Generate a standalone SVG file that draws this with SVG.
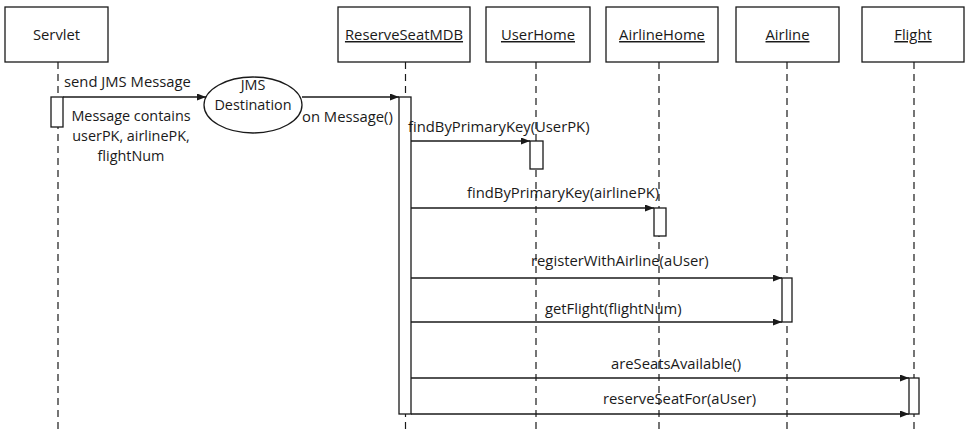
<svg xmlns="http://www.w3.org/2000/svg" width="965" height="434" viewBox="0 0 965 434">
<style>
text{font-family:"Open Sans","DejaVu Sans",sans-serif;font-size:14.8px;fill:#1a1a1a}
.m{font-size:14.4px}
.box{fill:#fff;stroke:#1a1a1a;stroke-width:1.3}
.life{stroke:#1a1a1a;stroke-width:1.2;stroke-dasharray:7 5;fill:none}
.act{fill:#fff;stroke:#1a1a1a;stroke-width:1.3}
.msg{stroke:#1a1a1a;stroke-width:1.3;fill:none;marker-end:url(#arr)}
.c{text-anchor:middle}
.u{text-decoration:underline}
</style>
<defs>
<marker id="arr" markerUnits="userSpaceOnUse" markerWidth="10" markerHeight="8" refX="9" refY="3.5" orient="auto">
<path d="M0,0 L9,3.5 L0,7 z" fill="#1a1a1a"/>
</marker>
</defs>
<rect width="965" height="434" fill="#fff"/>
<g id="lifelines">
<line class="life" x1="58" y1="62" x2="58" y2="434"/>
<line class="life" x1="405.5" y1="62" x2="405.5" y2="434"/>
<line class="life" x1="536" y1="62" x2="536" y2="434"/>
<line class="life" x1="659" y1="62" x2="659" y2="434"/>
<line class="life" x1="787" y1="62" x2="787" y2="434"/>
<line class="life" x1="914" y1="62" x2="914" y2="434"/>
</g>
<g id="servlet">
<rect class="box" x="5" y="7" width="103" height="55"/>
<text class="c" x="56.5" y="40">Servlet</text>
<rect class="act" x="51" y="97" width="12" height="30"/>
</g>
<g id="reserveSeatMDB">
<rect class="box" x="338" y="7" width="132" height="55"/>
<text class="c u" x="404" y="40">ReserveSeatMDB</text>
<rect class="act" x="399" y="97" width="12" height="317"/>
</g>
<g id="userHome">
<rect class="box" x="486" y="7" width="104" height="55"/>
<text class="c u" x="538" y="40">UserHome</text>
<rect class="act" x="530" y="141" width="13" height="28"/>
</g>
<g id="airlineHome">
<rect class="box" x="606" y="7" width="112" height="55"/>
<text class="c u" x="662" y="40">AirlineHome</text>
<rect class="act" x="654" y="208" width="12" height="28"/>
</g>
<g id="airline">
<rect class="box" x="736" y="7" width="103" height="55"/>
<text class="c u" x="787.5" y="40">Airline</text>
<rect class="act" x="782" y="278" width="10" height="44"/>
</g>
<g id="flight">
<rect class="box" x="862" y="7" width="102" height="55"/>
<text class="c u" x="913" y="40">Flight</text>
<rect class="act" x="909" y="378" width="10" height="36"/>
</g>
<g id="jmsDestination">
<ellipse class="box" cx="253" cy="105" rx="49" ry="28"/>
<text class="c m" x="253" y="90">JMS</text>
<text class="c m" x="253" y="110">Destination</text>
</g>
<g id="connectors">
<line class="msg" x1="63" y1="97" x2="206" y2="97"/>
<line class="msg" x1="302" y1="97" x2="399" y2="97"/>
<line class="msg" x1="411" y1="141" x2="530" y2="141"/>
<line class="msg" x1="411" y1="208" x2="654" y2="208"/>
<line class="msg" x1="411" y1="278" x2="782" y2="278"/>
<line class="msg" x1="411" y1="322" x2="782" y2="322"/>
<line class="msg" x1="411" y1="378" x2="909" y2="378"/>
<line class="msg" x1="411" y1="414" x2="909" y2="414"/>
</g>
<g id="labels">
<text x="64" y="87">send JMS Message</text>
<text x="302" y="122">on Message()</text>
<text class="c m" x="131" y="121">Message contains</text>
<text class="c m" x="131" y="141">userPK, airlinePK,</text>
<text class="c m" x="131" y="161">flightNum</text>
<text x="408" y="132">findByPrimaryKey(UserPK)</text>
<text x="467" y="198">findByPrimaryKey(airlinePK)</text>
<text x="531" y="266">registerWithAirline(aUser)</text>
<text x="545" y="314">getFlight(flightNum)</text>
<text x="611" y="369">areSeatsAvailable()</text>
<text x="603" y="404">reserveSeatFor(aUser)</text>
</g>
</svg>
